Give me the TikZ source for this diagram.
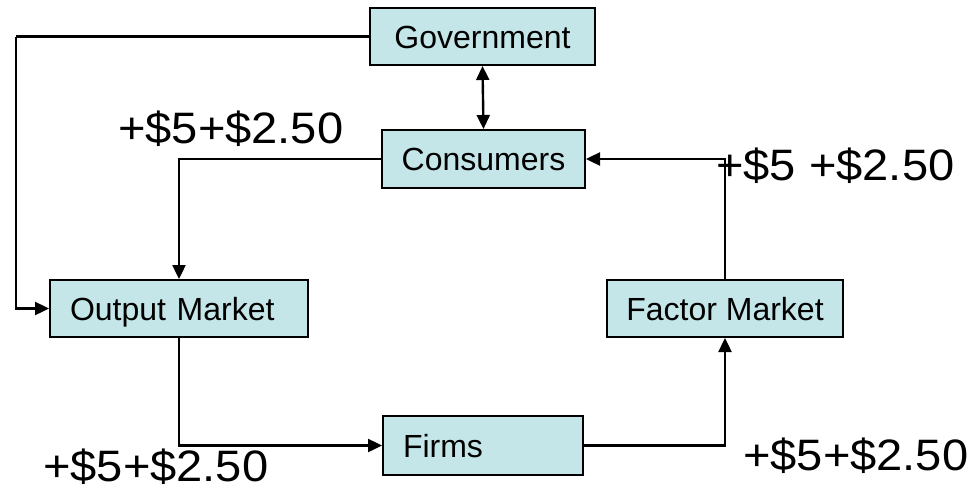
\documentclass[tikz,border=0pt]{standalone}
\usepackage{fontspec}
\setmainfont{Liberation Sans}
\newfontfamily\amountfont[FakeStretch=1.07]{Liberation Sans}
\usetikzlibrary{arrows.meta}
\definecolor{boxfill}{RGB}{197,230,232}
\tikzset{
  flowbox/.style={draw=black, line width=2pt, fill=boxfill, inner xsep=0pt,
    font=\fontsize{32}{36}\selectfont, text height=23pt, text depth=0pt},
  link/.style={line width=2.4pt},
  flow/.style={link, -{Triangle[length=14pt,width=13pt]}},
  amount/.style={font=\amountfont\fontsize{44}{48}\selectfont, inner sep=0pt, anchor=base west}
}
\begin{document}
\begin{tikzpicture}[x=1pt,y=-1pt]
  \useasboundingbox (0,0) rectangle (975,490);

  % sectors and markets
  \node[flowbox, minimum width=225pt, minimum height=57pt] (gov) at (482.5,36.5) {Government};
  \node[flowbox, minimum width=203pt, minimum height=58pt] (con) at (483.5,159) {Consumers};
  \node[flowbox, minimum width=258pt, minimum height=57pt, text width=218pt, align=left] (out) at (179,308.5) {Output Market};
  \node[flowbox, minimum width=236pt, minimum height=57pt] (fac) at (725,308.5) {Factor Market};
  \node[flowbox, minimum width=200pt, minimum height=59pt, text width=160pt, align=left] (firms) at (483,445.5) {Firms};

  % corner of the government spending loop
  \coordinate (govcorner) at (16,36.5);

  % money flows
  \draw[link] (gov.west) -- (govcorner);
  \draw[flow] (govcorner) |- (out.west);
  \draw[link, {Triangle[length=14pt,width=13pt]}-{Triangle[length=14pt,width=13pt]}] (gov.south) -- (con.north);
  \draw[flow] (con.west) -| (out.north);
  \draw[flow] (out.south) |- (firms.west);
  \draw[flow] (firms.east) -| (fac.south);
  \draw[flow] (fac.north) |- (con.east);

  % amounts
  \node[amount] (a1) at (118,143) {+\$5+\$2.50};
  \node[amount] (a2) at (716,180) {+\$5 +\$2.50};
  \node[amount] (a3) at (43,481) {+\$5+\$2.50};
  \node[amount] (a4) at (743,470) {+\$5+\$2.50};
\end{tikzpicture}
\end{document}
